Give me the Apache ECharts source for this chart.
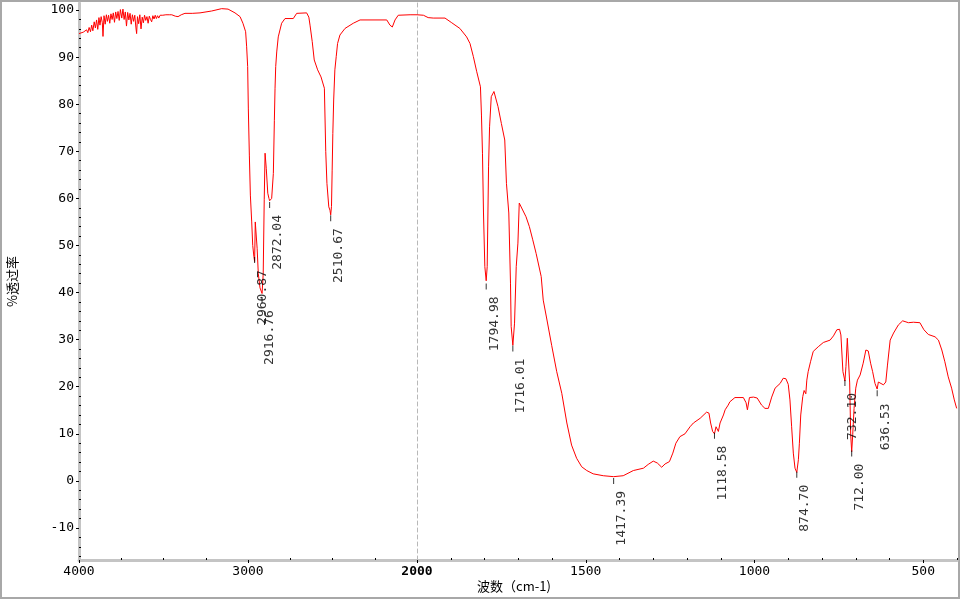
<!DOCTYPE html>
<html>
<head>
<meta charset="utf-8">
<script src="https://cdn.jsdelivr.net/npm/echarts@6/dist/echarts.min.js"></script>
<style>html,body{margin:0;padding:0;background:#fff}#c{width:960px;height:600px}</style>
</head>
<body>
<div id="c"></div>
<script>
// ---- data (wavenumber cm-1, % transmittance) ----
const leftWn = [4000,3990,3975,3965,3955,3948,3940,3932,3925,3918,3910,3903,3896,3889,3882,3876,3869,3862,3858,3852,3845,3838,3832,3825,3818,3811,3804,3797,3790,3783,3776,3769,3762,3755,3747,3740,3733,3726,3719,3712,3705,3698,3691,3684,3677,3670,3663,3659,3654,3647,3640,3633,3626,3619,3612,3605,3598,3591,3584,3577,3570,3563,3556,3549,3542,3535,3528,3520,3512,3504,3495,3486,3476,3466,3451,3430,3414,3395,3373,3330,3284,3215,3156,3118,3077,3047,3030,3014,3008,3002,2998,2992,2986,2978,2972,2965,2960.87,2957,2952,2946,2939,2929,2916.76,2910,2904,2899,2892,2883,2876,2872.04,2860,2850,2844,2840,2836,2830,2821,2801,2781,2732,2712,2653,2640,2633,2620,2608,2588,2568,2560,2548,2540,2533,2522,2515,2510.67,2506,2502,2498,2493,2486,2478,2470,2456,2426,2377,2337,2179,2160,2146,2130,2111,2041,2000];
const leftT = [95.0,95.1,95.3,95.0,95.8,95.2,96.3,95.4,96.8,95.6,97.5,96.2,97.9,95.9,98.4,96.8,98.6,97.3,94.4,98.8,97.0,99.0,97.6,98.9,97.2,99.2,98.0,99.4,97.4,99.6,98.2,99.7,97.8,100.1,98.3,100.2,98.0,99.6,96.6,99.5,97.9,99.3,97.0,99.0,97.6,98.9,96.2,95.0,98.6,97.1,99.0,96.0,98.5,97.3,98.9,97.8,98.6,97.2,98.7,98.0,97.5,98.8,98.1,98.9,98.2,98.8,98.3,98.9,98.5,98.9,98.6,99.0,98.8,99.0,99.0,98.7,98.6,99.0,99.3,99.3,99.4,99.8,100.3,100.2,99.4,98.6,97.2,95.4,92.2,88.0,79.0,69.2,60.7,55.0,50.0,47.6,46.6,55.0,54.8,49.4,44.0,41.0,39.8,44.0,59.7,69.6,66.4,61.1,60.0,59.5,60.0,65.3,76.6,83.4,88.0,91.1,94.3,97.2,98.2,98.2,99.3,99.4,98.5,96.8,93.3,89.4,87.3,85.8,85.5,83.4,70.0,63.2,58.2,57.5,56.5,58.3,66.0,73.8,80.9,87.3,90.1,92.9,94.7,96.1,97.2,97.9,97.9,96.8,96.4,97.9,98.9,99.0,99.0];
const rightWn = [2000,1981,1967,1952,1917,1897,1873,1853,1843,1833,1823,1812,1809,1806,1803,1799,1794.98,1792,1788,1785,1780,1772,1760,1750,1740,1735,1728,1723,1721,1716.01,1711,1706,1701,1697,1692,1677,1667,1657,1647,1632,1626,1616,1601,1586,1571,1556,1542,1527,1512,1497,1478,1448,1417.39,1389,1359,1329,1315,1300,1288,1275,1265,1252,1242,1233,1221,1206,1191,1181,1161,1142,1135,1130,1124,1118.58,1114,1107,1102,1092,1087,1078,1073,1058,1033,1025,1021,1015,1003,992,979,969,959,949,939,924,915,907,900,895,890,885,880,874.70,870,867,863,857,853,848,845,841,834,826,811,796,776,766,756,748,744,738,732.10,729,725,721,718,715,712.00,709,705,700,695,687,678,670,663,656,650,643,636.53,633,628,618,611,606,598,588,574,561,544,529,510,498,485,465,455,445,436,426,416,408,401];
const rightT = [99.0,98.9,98.4,98.3,98.3,97.3,96.1,94.3,92.9,90.1,86.9,83.7,77.7,69.6,56.9,45.5,42.5,45.5,66.7,75.2,81.6,82.7,79.5,75.9,72.4,63.2,56.9,42.0,32.8,28.8,33.5,45.5,50.5,59.0,59.3,56.1,54.0,51.2,48.3,43.4,38.4,34.6,28.8,23.2,18.6,12.3,7.6,4.8,3.0,2.2,1.5,1.1,0.9,1.1,2.2,2.7,3.5,4.2,3.8,2.9,3.6,4.1,5.9,8.0,9.4,10.0,11.5,12.3,13.3,14.6,14.4,12.3,10.5,10.0,11.5,10.5,12.3,14.0,15.1,16.1,16.8,17.7,17.7,16.6,15.1,17.7,17.8,17.6,16.1,15.4,15.4,17.8,19.7,20.7,21.8,21.7,20.5,17.2,11.5,5.9,2.7,1.8,4.5,8.0,14.0,17.9,19.2,18.5,21.4,23.2,25.3,27.5,28.5,29.4,29.9,30.8,32.1,32.2,31.0,23.2,21.2,24.3,30.3,30.3,20.8,9.8,6.2,9.8,15.4,19.7,21.4,22.5,25.0,27.8,27.6,25.0,23.2,20.7,19.5,21.0,21.4,20.4,21.0,24.6,29.9,31.4,33.1,34.0,33.6,33.7,33.6,32.1,31.1,30.6,29.9,27.8,25.3,22.1,19.7,17.2,15.4];
const peakWn = [2960.87,2916.76,2872.04,2510.67,1794.98,1716.01,1417.39,1118.58,874.70,732.10,712.00,636.53];
const peakMarkT = [46.9,38.4,58.6,55.8,41.3,28.1,0.0,9.6,1.3,20.8,5.8,18.6];
const peakLabels = ['2960.87','2916.76','2872.04','2510.67','1794.98','1716.01','1417.39','1118.58','874.70','732.10','712.00','636.53'];
const yTickLabels = [-10,0,10,20,30,40,50,60,70,80,90,100];
const yMinorTicks = [-16,-14,-12,-8,-6,-4,-2,2,4,6,8,12,14,16,18,22,24,26,28,32,34,36,38,42,44,46,48,52,54,56,58,62,64,66,68,72,74,76,78,82,84,86,88,92,94,96,98];
const xLabelsLeft = [4000,3000];
const xMinorLeft = [3750,3500,3250,2750,2500,2250];
const xLabelsRight = [2000,1500,1000,500];
const xMinorRight = [1900,1800,1700,1600,1400,1300,1200,1100,900,800,700,600,400];
const yName = '%透过率';
const xName = '波数（cm-1)';

const Y_MIN = -16.8, Y_MAX = 101.5;
const mono = 'DejaVu Sans Mono';
const axisGrey = '#c4c4c4';

function splitData(side) {
  const out = [];
  for (let i = 0; i < peakWn.length; i++) {
    const isLeft = peakWn[i] >= 2000;
    if (isLeft === side) out.push({value: [peakWn[i], peakMarkT[i]], name: peakLabels[i]});
  }
  return out;
}

const peakSeriesCommon = {
  type: 'scatter',
  symbol: 'rect',
  symbolSize: [1, 6],
  itemStyle: {color: '#000'},
  silent: true,
  label: {
    show: true,
    formatter: p => p.name,
    position: 'bottom',
    distance: 0,
    rotate: 90,
    align: 'right',
    verticalAlign: 'middle',
    offset: [-7, 8],
    fontFamily: mono,
    fontSize: 13,
    color: '#000'
  },
  z: 5
};

const chart = echarts.init(document.getElementById('c'), null, {renderer: 'canvas'});
chart.setOption({
  animation: false,
  backgroundColor: '#fff',
  grid: [
    {left: 79, top: 3, width: 338, height: 557},
    {left: 417, top: 3, width: 540, height: 557}
  ],
  xAxis: [
    {gridIndex: 0, type: 'value', inverse: true, min: 2000, max: 4000, position: 'bottom',
     axisLine: {onZero: false, lineStyle: {color: axisGrey, width: 3}},
     axisTick: {customValues: xLabelsLeft, length: 3, lineStyle: {color: '#000'}},
     axisLabel: {customValues: xLabelsLeft, margin: 5, fontFamily: mono, fontSize: 13, color: '#000', formatter: v => String(v)},
     splitLine: {show: false}},
    {gridIndex: 0, type: 'value', inverse: true, min: 2000, max: 4000, position: 'bottom',
     axisLine: {show: false, onZero: false},
     axisTick: {customValues: xMinorLeft, inside: true, length: 2, lineStyle: {color: '#000'}},
     axisLabel: {show: false}, splitLine: {show: false}},
    {gridIndex: 1, type: 'value', inverse: true, min: 400, max: 2000, position: 'bottom',
     axisLine: {onZero: false, lineStyle: {color: axisGrey, width: 3}},
     axisTick: {customValues: xLabelsRight, length: 3, lineStyle: {color: '#000'}},
     axisLabel: {customValues: xLabelsRight, margin: 5, fontFamily: mono, fontSize: 13, color: '#000',
       formatter: v => v === 2000 ? '{b|' + v + '}' : String(v),
       rich: {b: {fontWeight: 'bold', fontFamily: mono, fontSize: 13, color: '#000'}}},
     splitLine: {show: false}},
    {gridIndex: 1, type: 'value', inverse: true, min: 400, max: 2000, position: 'bottom',
     axisLine: {show: false, onZero: false},
     axisTick: {customValues: xMinorRight, inside: true, length: 2, lineStyle: {color: '#000'}},
     axisLabel: {show: false}, splitLine: {show: false}}
  ],
  yAxis: [
    {gridIndex: 0, type: 'value', min: Y_MIN, max: Y_MAX, position: 'left',
     name: yName, nameLocation: 'middle', nameRotate: 90, nameGap: 60,
     nameTextStyle: {fontFamily: 'Noto Sans CJK SC', fontSize: 13, color: '#000'},
     axisLine: {show: true, onZero: false, lineStyle: {color: axisGrey, width: 3}},
     axisTick: {show: true, customValues: yTickLabels, length: 3, lineStyle: {color: '#000'}},
     axisLabel: {customValues: yTickLabels, margin: 5, fontFamily: mono, fontSize: 13, color: '#000'},
     splitLine: {show: false}},
    {gridIndex: 0, type: 'value', min: Y_MIN, max: Y_MAX, position: 'left',
     axisLine: {show: false, onZero: false},
     axisTick: {show: true, customValues: yMinorTicks, inside: true, length: 2, lineStyle: {color: '#000'}},
     axisLabel: {show: false}, splitLine: {show: false}},
    {gridIndex: 1, type: 'value', min: Y_MIN, max: Y_MAX, position: 'left',
     axisLine: {show: true, onZero: false, lineStyle: {color: '#b8b8b8', width: 1, type: [4, 3]}},
     axisTick: {show: false}, axisLabel: {show: false}, splitLine: {show: false}}
  ],
  series: [
    {type: 'line', xAxisIndex: 0, yAxisIndex: 0, showSymbol: false, symbol: 'none', silent: true,
     lineStyle: {color: '#ff0000', width: 1}, data: leftWn.map((w, i) => [w, leftT[i]]), z: 3},
    {type: 'line', xAxisIndex: 2, yAxisIndex: 2, showSymbol: false, symbol: 'none', silent: true,
     lineStyle: {color: '#ff0000', width: 1}, data: rightWn.map((w, i) => [w, rightT[i]]), z: 3},
    Object.assign({}, peakSeriesCommon, {xAxisIndex: 0, yAxisIndex: 0, data: splitData(true)}),
    Object.assign({}, peakSeriesCommon, {xAxisIndex: 2, yAxisIndex: 2, data: splitData(false)})
  ],
  graphic: [
    {type: 'rect', shape: {x: 1, y: 1, width: 958, height: 597}, style: {fill: 'none', stroke: '#a8a8a8', lineWidth: 2}, silent: true},
    {type: 'text', left: 477, top: 580, style: {text: xName, font: '13px "Noto Sans CJK SC"', fill: '#000'}, silent: true}
  ]
});
</script>
</body>
</html>
